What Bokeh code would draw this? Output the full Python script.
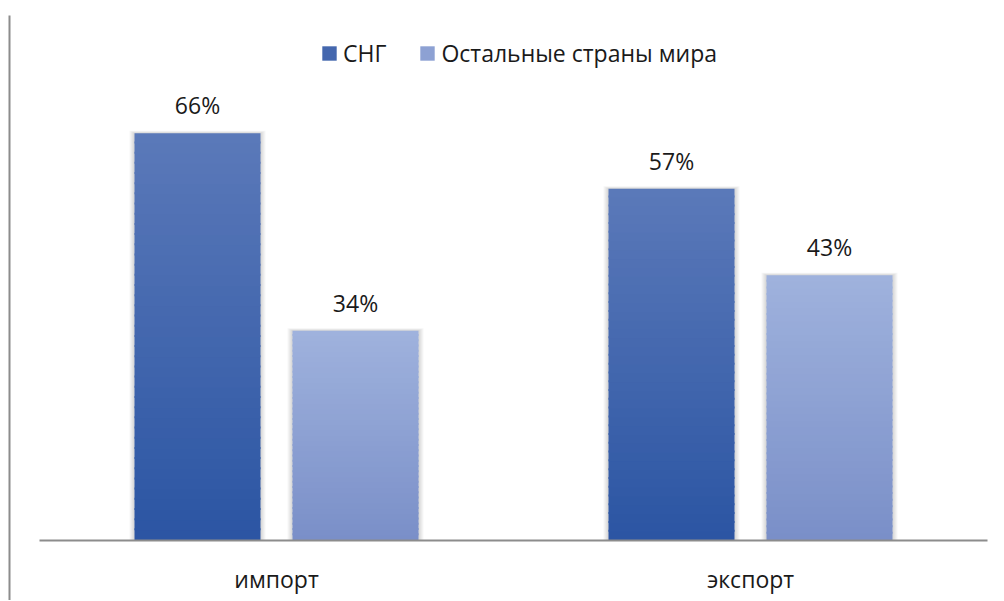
import numpy as np
from bokeh.plotting import figure
from bokeh.models import ColumnDataSource, Range1d, Legend, LegendItem
from bokeh.core.properties import value
from bokeh.embed import file_html
from bokeh.resources import INLINE

# ---- data ----
categories = ["импорт", "экспорт"]
series_names = ["СНГ", "Остальные страны мира"]
cis_values = [66, 57]
rest_values = [34, 43]

# ---- layout constants ----
W, H = 1000, 600
PX_PER_CAT = 474.0
PX_PER_PCT = 6.17
LEFT_PAD = 39
BASE_FROM_TOP = 540
x_start = -LEFT_PAD / PX_PER_CAT
x_end = (W - LEFT_PAD) / PX_PER_CAT
y_end = BASE_FROM_TOP / PX_PER_PCT
y_start = -(H - BASE_FROM_TOP) / PX_PER_PCT
PXX = 1.0 / PX_PER_CAT
PXY = 1.0 / PX_PER_PCT

FONT = "Open Sans"
FSIZE = "23px"
TXT = "#1a1a1a"
AXIS_GRAY = "#8c8c8c"

series_offsets = [-1 / 6, 1 / 6]
bar_width = 126 / PX_PER_CAT
grad = [("#2b55a3", "#5b79b9"), ("#7a8fc8", "#9fb2dd")]  # (bottom, top)

p = figure(width=W, height=H, output_backend="svg", toolbar_location=None,
           x_range=Range1d(x_start, x_end), y_range=Range1d(y_start, y_end),
           min_border=0, x_axis_location=None, y_axis_location=None)
p.grid.visible = False
p.outline_line_color = None
p.background_fill_color = "white"


def hex2rgb(h):
    h = h.lstrip("#")
    return np.array([int(h[i:i + 2], 16) for i in (0, 2, 4)], dtype=float)


def rgb2hex(c):
    return "#%02x%02x%02x" % tuple(int(round(v)) for v in c)


N = 40
all_values = [cis_values, rest_values]
bar_renderers = []
for s, vals in enumerate(all_values):
    centers = [i + 0.5 + series_offsets[s] for i in range(len(categories))]
    # soft shadow
    sl, sr, st, sb = [], [], [], []
    for c, v in zip(centers, vals):
        for d in range(1, 6):
            sl.append(c - bar_width / 2 - d * PXX)
            sr.append(c + bar_width / 2 + d * PXX)
            st.append(v + d * 0.5 * PXY)
            sb.append(0)
    p.quad(left=sl, right=sr, top=st, bottom=sb, fill_color="black",
           fill_alpha=0.03, line_color=None)
    # gradient bars
    lft, rgt, top, bot, col = [], [], [], [], []
    cb, ct = hex2rgb(grad[s][0]), hex2rgb(grad[s][1])
    for c, v in zip(centers, vals):
        for j in range(N):
            f = (j + 0.5) / N
            lft.append(c - bar_width / 2)
            rgt.append(c + bar_width / 2)
            bot.append(v * j / N)
            top.append(min(v, v * (j + 1) / N + 2 * PXY))
            col.append(rgb2hex(cb + (ct - cb) * f))
    src = ColumnDataSource(dict(left=lft, right=rgt, top=top, bottom=bot, color=col))
    r = p.quad(left="left", right="right", top="top", bottom="bottom",
               fill_color="color", line_color=None, source=src)
    bar_renderers.append(r)
    # value labels
    p.text(x=centers, y=vals, text=[f"{v}%" for v in vals],
           text_font=value(FONT), text_font_size=value(FSIZE), text_color=TXT,
           text_align="center", text_baseline="bottom", y_offset=-12)

# baseline
p.segment(x0=[0], y0=[0], x1=[len(categories)], y1=[0],
          line_color=AXIS_GRAY, line_width=2)
# left border line
p.segment(x0=[x_start + 9 * PXX], y0=[y_start], x1=[x_start + 9 * PXX],
          y1=[y_end - 15 * PXY], line_color=AXIS_GRAY, line_width=2)

# category labels
p.text(x=[i + 0.5 for i in range(len(categories))], y=[0] * len(categories),
       text=categories, text_font=value(FONT), text_font_size=value(FSIZE),
       text_color=TXT, text_align="center", text_baseline="middle", y_offset=38)

# legend
items = [LegendItem(label=name, renderers=[r], index=N // 2)
         for name, r in zip(series_names, bar_renderers)]
legend = Legend(items=items, location=(320, 531), orientation="horizontal",
                border_line_alpha=0, background_fill_alpha=0, padding=0, margin=0,
                spacing=32, label_standoff=5, glyph_width=18, glyph_height=18,
                label_text_font=FONT, label_text_font_size=FSIZE,
                label_text_color=TXT)
p.add_layout(legend)

open("out.html", "w").write(file_html(p, INLINE))
